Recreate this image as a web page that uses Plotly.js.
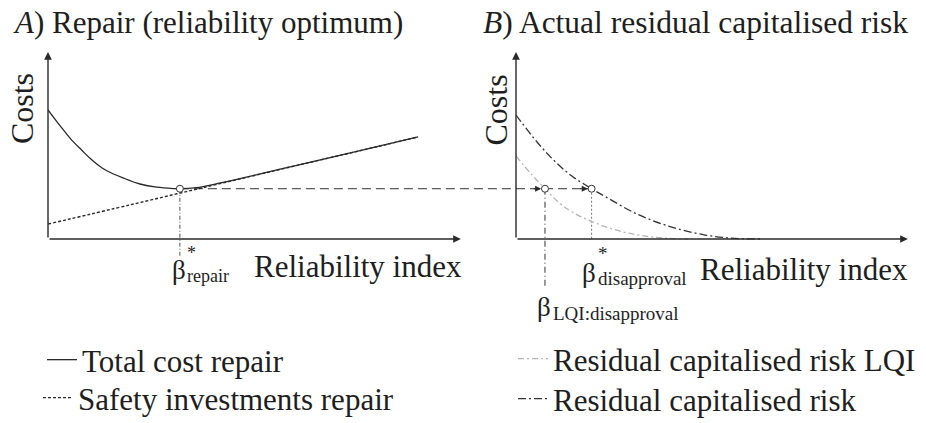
<!DOCTYPE html>
<html>
<head>
<meta charset="utf-8">
<script src="https://cdn.plot.ly/plotly-3.0.1.min.js"></script>
<style>html,body{margin:0;padding:0;background:#fff;}#chart{width:926px;height:423px;}</style>
</head>
<body>
<div id="chart"></div>
<script>
// ---------- data ----------
// Panel A: repair (reliability optimum)
const betaTotal = [0, 0.21, 0.40, 0.60, 0.80, 1.00, 1.19, 1.40, 1.79, 2.19, 2.59, 2.98, 3.14, 3.54, 3.93, 4.57, 6.00, 7.43, 8.81];
const totalCost = [6.83, 6.21, 5.68, 5.15, 4.71, 4.27, 3.92, 3.61, 3.23, 2.91, 2.74, 2.67, 2.66, 2.72, 2.88, 3.19, 3.94, 4.68, 5.40];
const betaSafety = [0, 2, 4, 6, 8, 8.81];
const safetyInv = [0.79, 1.83, 2.88, 3.93, 4.97, 5.40];
// Panel B: actual residual capitalised risk
const betaRisk = [0, 0.52, 0.93, 1.33, 1.80, 2.12, 2.90, 3.71, 4.50, 5.10, 5.81];
const residualRisk = [6.56, 5.08, 4.10, 3.33, 2.66, 2.25, 1.30, 0.63, 0.21, 0.05, 0];
const betaLQIcurve = [0, 0.38, 0.69, 1.00, 1.33, 1.81, 2.52, 3.31, 4.10];
const residualRiskLQI = [4.39, 3.39, 2.66, 1.97, 1.44, 0.92, 0.39, 0.09, 0];
// characteristic points
const betaRepair = 3.14;
const betaLQI = 0.69;
const betaDisapproval = 1.80;
const costOptimum = 2.66;
// labels
const seriesNames = ['Total cost repair', 'Safety investments repair', 'Residual capitalised risk LQI', 'Residual capitalised risk'];
const titleA = '<i>A</i>) Repair (reliability optimum)';
const titleB = '<i>B</i>) Actual residual capitalised risk';
const yLabel = 'Costs';
const xLabel = 'Reliability index';

// ---------- layout helpers ----------
const W = 926, H = 423;
const FONT = 'Liberation Serif';
const INK = '#1e1e1e';
const xMaxA = 11.1429, xMaxB = 9.7619;
const yMin = -3.5, yMax = 10;

function txt(text, px, py, size, extra) {
  return Object.assign({
    xref: 'paper', yref: 'paper', x: px / W, y: 1 - py / H,
    text: text, showarrow: false, xanchor: 'left', yanchor: 'middle',
    font: {family: FONT, size: size, color: INK}
  }, extra || {});
}
function axisArrow(xr, yr, x, y) {
  return {xref: xr, yref: yr, axref: xr, ayref: yr, x: x, y: y, ax: 0, ay: 0,
    text: '', showarrow: true, arrowhead: 2, arrowsize: 1.1, arrowwidth: 1.4,
    arrowcolor: '#2a2a2a', standoff: 0, startstandoff: 0};
}
function smallArrow(xr, yr, x, y) {
  return {xref: xr, yref: yr, x: x, y: y, ax: -9, ay: 0,
    text: '', showarrow: true, arrowhead: 2, arrowsize: 1.1, arrowwidth: 1.1,
    arrowcolor: '#2a2a2a', standoff: 0};
}

const traces = [
  // connector dashed line (A part)
  {x: [betaRepair, xMaxA], y: [costOptimum, costOptimum], xaxis: 'x', yaxis: 'y', mode: 'lines',
   line: {color: '#333', width: 1, dash: '9px,5px'}, showlegend: false, hoverinfo: 'skip'},
  // connector dashed line (B part)
  {x: [0, betaDisapproval], y: [costOptimum, costOptimum], xaxis: 'x2', yaxis: 'y2', mode: 'lines',
   line: {color: '#333', width: 1, dash: '9px,5px'}, showlegend: false, hoverinfo: 'skip'},
  // vertical drop lines
  {x: [betaRepair, betaRepair], y: [costOptimum, -0.95], xaxis: 'x', yaxis: 'y', mode: 'lines',
   line: {color: '#555', width: 1, dash: '4px,2px,1px,2px'}, showlegend: false, hoverinfo: 'skip'},
  {x: [betaLQI, betaLQI], y: [costOptimum, -2.54], xaxis: 'x2', yaxis: 'y2', mode: 'lines',
   line: {color: '#333', width: 1, dash: '6px,3px,1px,3px'}, showlegend: false, hoverinfo: 'skip'},
  {x: [betaDisapproval, betaDisapproval], y: [costOptimum, 0], xaxis: 'x2', yaxis: 'y2', mode: 'lines',
   line: {color: '#777', width: 1, dash: '2px,2px'}, showlegend: false, hoverinfo: 'skip'},
  // Panel A curves
  {x: betaTotal, y: totalCost, xaxis: 'x', yaxis: 'y', mode: 'lines', name: seriesNames[0],
   line: {color: '#2a2a2a', width: 1.3, shape: 'spline'}, legend: 'legend'},
  {x: betaSafety, y: safetyInv, xaxis: 'x', yaxis: 'y', mode: 'lines', name: seriesNames[1],
   line: {color: '#2a2a2a', width: 1.4, dash: '3px,2px', shape: 'spline'}, legend: 'legend2'},
  // Panel B curves
  {x: betaLQIcurve, y: residualRiskLQI, xaxis: 'x2', yaxis: 'y2', mode: 'lines', name: seriesNames[2],
   line: {color: '#b4b4b4', width: 1.3, dash: '6px,3px,2px,3px', shape: 'spline'}, legend: 'legend3'},
  {x: betaRisk, y: residualRisk, xaxis: 'x2', yaxis: 'y2', mode: 'lines', name: seriesNames[3],
   line: {color: '#333', width: 1.3, dash: '8px,3px,2px,3px', shape: 'spline'}, legend: 'legend4'},
  // optimum markers
  {x: [betaRepair], y: [costOptimum], xaxis: 'x', yaxis: 'y', mode: 'markers', cliponaxis: false,
   marker: {size: 7, color: '#fff', line: {color: '#333', width: 1}}, showlegend: false, hoverinfo: 'skip'},
  {x: [betaLQI, betaDisapproval], y: [costOptimum, costOptimum], xaxis: 'x2', yaxis: 'y2', mode: 'markers', cliponaxis: false,
   marker: {size: 7, color: '#fff', line: {color: '#333', width: 1}}, showlegend: false, hoverinfo: 'skip'}
];

const yDom = [1 - 305.15 / H, 1 - 50 / H];
const hidden = {visible: false, showgrid: false, zeroline: false, fixedrange: true};

const annotations = [
  // axes with arrows
  axisArrow('x', 'y', 9.83, 0),
  axisArrow('x', 'y', 0, 9.89),
  axisArrow('x2', 'y2', 9.33, 0),
  axisArrow('x2', 'y2', 0, 9.89),
  // arrows on connector
  smallArrow('x2', 'y2', betaLQI - 0.09, costOptimum),
  smallArrow('x2', 'y2', betaDisapproval - 0.09, costOptimum),
  // titles
  txt(titleA, 11, 22.5, 31),
  txt(titleB, 481, 22.5, 31.5),
  // axis labels
  txt(yLabel, 22.6, 108.5, 32, {xanchor: 'center', textangle: -90}),
  txt(yLabel, 495.5, 110, 32, {xanchor: 'center', textangle: -90}),
  txt(xLabel, 252, 266.5, 31),
  txt(xLabel, 698, 269.5, 31),
  // beta labels (symbol + stacked star / subscript)
  txt('β', 170, 270, 27),
  txt('*<br>repair', 185, 264.5, 18, {align: 'left'}),
  txt('β', 580, 273, 27),
  txt('*<br>disapproval', 595.5, 266, 19, {align: 'left'}),
  txt('β', 535, 307, 27),
  txt('LQI:disapproval', 551, 313.6, 19)
];

const legendFont = {family: FONT, size: 31, color: INK};
function leg(px, pyTop) {
  return {x: px / W, y: 1 - pyTop / H, xanchor: 'left', yanchor: 'top', font: legendFont,
    bgcolor: 'rgba(0,0,0,0)', borderwidth: 0, itemwidth: 30, tracegroupgap: 0};
}
const layout = {
  width: W, height: H,
  margin: {l: 0, r: 0, t: 0, b: 0, pad: 0, autoexpand: false},
  paper_bgcolor: '#fff', plot_bgcolor: 'rgba(0,0,0,0)',
  showlegend: true,
  xaxis: Object.assign({domain: [48 / W, 516 / W], range: [0, xMaxA], anchor: 'y'}, hidden),
  yaxis: Object.assign({domain: yDom, range: [yMin, yMax], anchor: 'x'}, hidden),
  xaxis2: Object.assign({domain: [516 / W, 1], range: [0, xMaxB], anchor: 'y2'}, hidden),
  yaxis2: Object.assign({domain: yDom, range: [yMin, yMax], anchor: 'x2'}, hidden),
  legend: leg(42, 333),
  legend2: leg(38, 371),
  legend3: leg(513, 332),
  legend4: leg(513, 372),
  annotations: annotations
};

Plotly.newPlot('chart', traces, layout, {staticPlot: true, displayModeBar: false});
</script>
</body>
</html>
